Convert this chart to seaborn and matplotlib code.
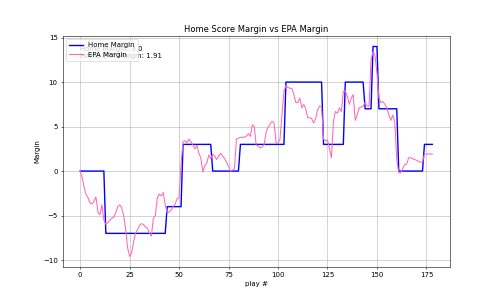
import matplotlib
matplotlib.use("Agg")
import matplotlib.pyplot as plt
import seaborn as sns
import numpy as np
import pandas as pd

home_margin = [
    0, 0, 0, 0, 0, 0, 0, 0, 0, 0, 0, 0, 0,
    -7, -7, -7, -7, -7, -7, -7, -7, -7, -7, -7, -7, -7, -7, -7, -7, -7, -7, -7,
    -7, -7, -7, -7, -7, -7, -7, -7, -7, -7, -7, -7,
    -4, -4, -4, -4, -4, -4, -4, -4,
    3, 3, 3, 3, 3, 3, 3, 3, 3, 3, 3, 3, 3, 3, 3,
    0, 0, 0, 0, 0, 0, 0, 0, 0, 0, 0, 0, 0, 0,
    3, 3, 3, 3, 3, 3, 3, 3, 3, 3, 3, 3, 3, 3, 3, 3, 3, 3, 3, 3, 3, 3, 3,
    10, 10, 10, 10, 10, 10, 10, 10, 10, 10, 10, 10, 10, 10, 10, 10, 10, 10, 10,
    3, 3, 3, 3, 3, 3, 3, 3, 3, 3, 3,
    10, 10, 10, 10, 10, 10, 10, 10, 10, 10,
    7, 7, 7, 7,
    14, 14, 14,
    7, 7, 7, 7, 7, 7, 7, 7, 7, 7,
    0, 0, 0, 0, 0, 0, 0, 0, 0, 0, 0, 0, 0,
    3, 3, 3, 3, 3,
]

epa_margin = [
    0.0, -0.7, -1.8, -2.6, -3.0, -3.6, -3.7, -3.4, -2.9, -4.6,
    -4.9, -3.8, -5.5, -6.0, -5.8, -5.5, -5.3, -5.2, -4.7, -4.0,
    -3.8, -4.1, -5.0, -6.5, -8.6, -9.6, -9.2, -8.0, -7.0, -6.6,
    -6.1, -5.9, -6.0, -6.3, -6.4, -7.0, -7.3, -5.3, -5.0, -3.0,
    -2.6, -2.8, -2.4, -3.8, -4.7, -4.6, -4.4, -4.0, -3.7, -3.1,
    -3.0, 0.8, 3.3, 3.4, 3.2, 3.6, 3.3, 2.9, 2.5, 2.9,
    2.0, 1.5, -0.1, 0.6, 0.9, 1.8, 1.4, 1.9, 1.7, 1.3,
    1.7, 2.0, 1.7, 1.4, 1.0, 0.5, 0.0, 0.1, 0.3, 3.6,
    3.7, 3.8, 3.8, 3.8, 3.9, 4.2, 3.9, 5.2, 5.0, 2.9,
    2.8, 2.6, 2.7, 3.0, 4.4, 4.9, 5.3, 5.6, 5.4, 3.2,
    3.1, 3.6, 6.3, 9.0, 9.6, 9.4, 9.3, 9.3, 8.6, 7.7,
    7.7, 8.2, 7.1, 7.5, 7.0, 6.0, 6.0, 5.9, 5.4, 5.9,
    6.9, 7.3, 7.2, 3.6, 3.4, 3.5, 2.5, 1.5, 5.6, 6.7,
    6.5, 7.1, 6.7, 9.0, 9.0, 8.4, 7.5, 8.2, 8.6, 5.7,
    6.3, 7.1, 7.2, 7.3, 7.7, 7.3, 7.3, 12.5, 13.4, 13.0,
    11.0, 8.2, 7.7, 7.8, 7.5, 7.1, 6.3, 5.7, 6.3, 5.5,
    1.3, -0.2, -0.2, 0.3, 0.7, 0.8, 1.5, 1.5, 1.4, 1.3,
    1.2, 1.1, 1.0, 1.0, 1.9, 1.9, 1.95, 1.9, 1.91,
]

plays = list(range(len(home_margin)))

df = pd.DataFrame({"play": plays, "home": home_margin, "epa": epa_margin})

fig, ax = plt.subplots(figsize=(10, 6), dpi=50)

ax.text(0, 14.1, f"Home Margin: {float(home_margin[-1])}\nHome EPA Margin: {epa_margin[-1]:.2f}",
        va="top", ha="left", fontsize=10)

sns.lineplot(data=df, x="play", y="home", ax=ax, color="blue", linewidth=2,
             label="Home Margin", estimator=None)
sns.lineplot(data=df, x="play", y="epa", ax=ax, color="hotpink", linewidth=1.5,
             label="EPA Margin", estimator=None)

ax.set_title("Home Score Margin vs EPA Margin", fontsize=12)
ax.set_xlabel("play #")
ax.set_ylabel("Margin")
ax.grid(True)
ax.legend(loc="upper left")

fig.savefig("out.png", dpi=50)
